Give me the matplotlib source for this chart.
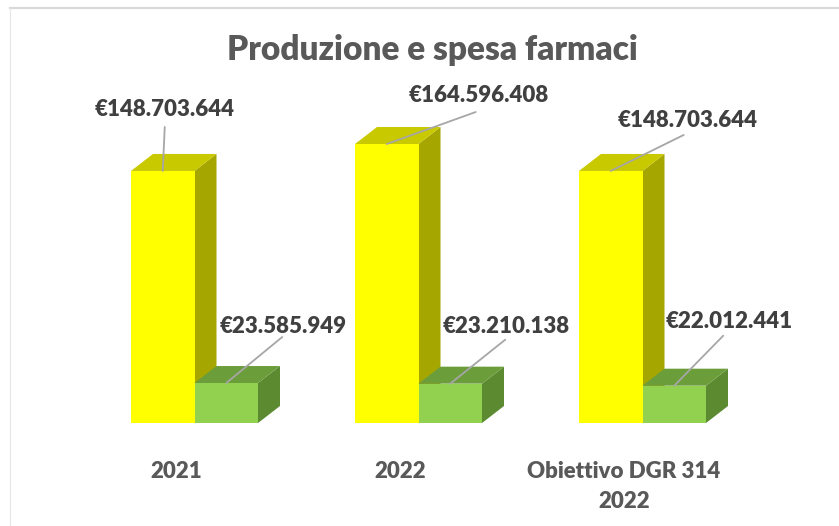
import matplotlib
matplotlib.use("Agg")
import matplotlib.pyplot as plt
from matplotlib.patches import Polygon
from matplotlib.lines import Line2D
from matplotlib.transforms import IdentityTransform

categories = ["2021", "2022", "Obiettivo DGR 314\n2022"]
produzione = [148703644, 164596408, 148703644]
spesa = [23585949, 23210138, 22012441]
labels_prod = ["€148.703.644", "€164.596.408", "€148.703.644"]
labels_spesa = ["€23.585.949", "€23.210.138", "€22.012.441"]
title = "Produzione e spesa farmaci"

FONT = ["Lato", "DejaVu Sans"]
plt.rcParams["font.family"] = FONT
WEIGHT = "heavy"

W, H, DPI = 839, 526, 100
fig = plt.figure(figsize=(W / DPI, H / DPI), dpi=DPI)
fig.patch.set_facecolor("white")

# axes: baseline at 423 px from top, scale ~1.695 px per million
base_px = H - 423
ax = fig.add_axes([0, base_px / H, 1, 339 / H])
ax.set_facecolor("none")
ax.set_ylim(0, 200e6)
ax.set_xlim(-194.5 / 224, (W - 194.5) / 224)
ax.axis("off")

bw = 63.5 / 224
DX, DY = 22, 17

yellow = dict(front="#FFFF00", top="#C9C900", side="#A6A600")
green = dict(front="#92D050", top="#6C9D3B", side="#5B8A31")


def bar3d(xc, v, col, z):
    ax.bar([xc], [v], width=bw, color=col["front"], zorder=z, linewidth=0)
    x0, x1 = xc - bw / 2, xc + bw / 2
    t = ax.transData
    p10 = t.transform((x1, 0))
    p0v = t.transform((x0, v)); p1v = t.transform((x1, v))
    side = [p10, p1v, (p1v[0] + DX, p1v[1] + DY), (p10[0] + DX, p10[1] + DY)]
    top = [p0v, p1v, (p1v[0] + DX, p1v[1] + DY), (p0v[0] + DX, p0v[1] + DY)]
    ax.add_patch(Polygon(side, closed=True, facecolor=col["side"], edgecolor="none",
                         transform=IdentityTransform(), zorder=z - 0.1))
    ax.add_patch(Polygon(top, closed=True, facecolor=col["top"], edgecolor="none",
                         transform=IdentityTransform(), zorder=z - 0.1))


# offsets in pixels (text centre, line start) from the bar's front-top centre
prod_text_off = [(2, 61), (92, 49), (77, 50)]
prod_line_off = [(2, 44), (89, 32), (73, 36)]
spesa_text_off = [(57, 57), (56, 57), (55, 64)]
spesa_line_off = [(56, 46), (55, 44), (49, 50)]

lab_color = "#404040"
line_color = "#A6A6A6"

for i in range(3):
    bar3d(i - bw / 2, produzione[i], yellow, 2 + i * 2)
    bar3d(i + bw / 2, spesa[i], green, 3 + i * 2)

for i in range(3):
    for xc, v, lab, to, lo in [
        (i - bw / 2, produzione[i], labels_prod[i], prod_text_off[i], prod_line_off[i]),
        (i + bw / 2, spesa[i], labels_spesa[i], spesa_text_off[i], spesa_line_off[i]),
    ]:
        ax.annotate("", xy=(xc, v), xytext=lo, textcoords="offset pixels",
                    arrowprops=dict(arrowstyle="-", color=line_color, lw=1.3,
                                    shrinkA=0, shrinkB=0), zorder=20)
        ax.annotate(lab, xy=(xc, v), xytext=to, textcoords="offset pixels",
                    ha="center", va="center", fontsize=16, fontweight=WEIGHT,
                    color=lab_color, zorder=21)

# category labels (one text per line, baselines 30 px apart)
for i, c in enumerate(categories):
    for k, line in enumerate(c.split("\n")):
        fig.text((176 + 224 * i) / W, 1 - (478 + 30 * k) / H, line, ha="center",
                 va="baseline", fontsize=16, fontweight=WEIGHT, color="#595959")

fig.text(432 / W, 1 - 50 / H, title, ha="center", va="center",
         fontsize=24, fontweight=WEIGHT, color="#595959")

# chart area border
fig.add_artist(Line2D([10 / W, 1], [1 - 8 / H, 1 - 8 / H], color="#D9D9D9", lw=1.6,
                      transform=fig.transFigure))
fig.add_artist(Line2D([10 / W, 10 / W], [0, 1 - 8 / H], color="#E6E6E6", lw=0.8,
                      transform=fig.transFigure))

fig.savefig("out.png", dpi=DPI)
